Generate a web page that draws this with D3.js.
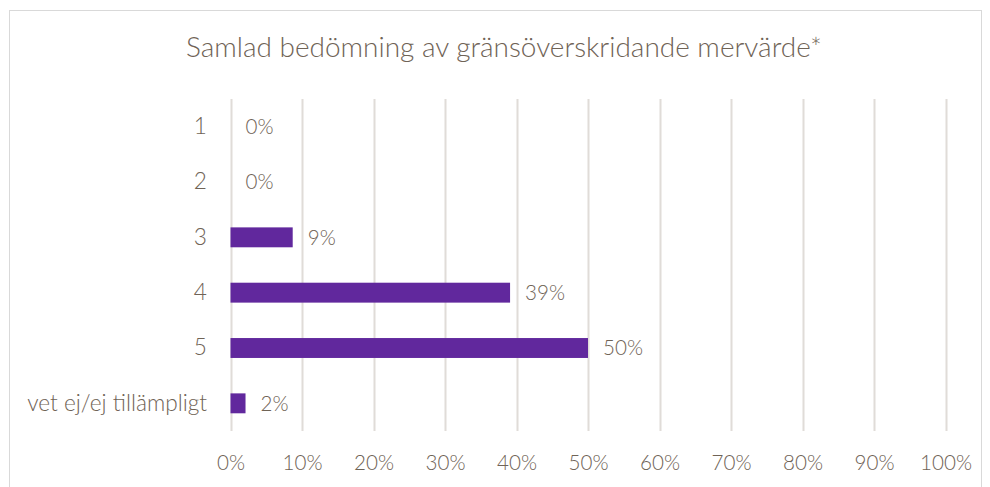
<!DOCTYPE html>
<html><head><meta charset="utf-8">
<script src="https://cdn.jsdelivr.net/npm/d3@7"></script>
<style>
html,body{margin:0;padding:0;background:#fff;}
svg text{font-family:Lato,"Open Sans",sans-serif;font-weight:300;fill:#6F6356;}
</style></head>
<body><svg id="c" width="990" height="487"></svg>
<script>
const title = "Samlad bedömning av gränsöverskridande mervärde*";
const categories = ["1","2","3","4","5","vet ej/ej tillämpligt"];
const values = [0, 0, 8.7, 39.1, 50, 2.1];
const valueLabels = ["0%","0%","9%","39%","50%","2%"];
const xTicks = [0,10,20,30,40,50,60,70,80,90,100];
const xTickLabels = ["0%","10%","20%","30%","40%","50%","60%","70%","80%","90%","100%"];

const svg = d3.select("#c");
function fitSize(sample, width){
  const t = svg.append("text").attr("font-size",100).text(sample);
  const w = t.node().getComputedTextLength();
  t.remove();
  return 100*width/w;
}
const titleSize = fitSize(title, 636);
const ySize = fitSize("vet ej/ej tillämpligt", 180);
const xSize = fitSize("100%", 52);
const lSize = fitSize("50%", 40);

svg.append("rect").attr("x",9.5).attr("y",10.5).attr("width",972).attr("height",490)
  .attr("fill","#fff").attr("stroke","#D9D9D9").attr("stroke-width",1);

const x = d3.scaleLinear().domain([0,100]).range([230.5,945.5]);
const y = d3.scaleBand().domain(categories).range([99,431]).paddingInner(0.64).paddingOuter(0.32);

svg.append("g").selectAll("line").data(xTicks).join("line")
  .attr("x1",d=>Math.round(x(d))+0.5).attr("x2",d=>Math.round(x(d))+0.5)
  .attr("y1",99).attr("y2",431).attr("stroke","#E0DCD8").attr("stroke-width",2);

const xa = svg.append("g").attr("transform","translate(0,431)")
  .call(d3.axisBottom(x).tickValues(xTicks).tickFormat((d,i)=>xTickLabels[i]).tickSize(0).tickPadding(0));
xa.select(".domain").remove();
xa.selectAll("text").attr("font-size",xSize).attr("font-family",null).attr("y",39).attr("dy",null);

const ya = svg.append("g").attr("transform","translate(230,0)")
  .call(d3.axisLeft(y).tickSize(0).tickPadding(23));
ya.select(".domain").remove();
ya.selectAll("text").attr("font-size",ySize).attr("font-family",null);

svg.append("g").selectAll("rect").data(values).join("rect")
  .attr("x",x(0)).attr("y",(d,i)=>y(categories[i]))
  .attr("width",d=>x(d)-x(0)).attr("height",y.bandwidth())
  .attr("fill","#61289D");

svg.append("g").selectAll("text").data(values).join("text")
  .attr("x",d=>x(d)+15).attr("y",(d,i)=>y(categories[i])+y.bandwidth()/2)
  .attr("dy","0.35em").attr("font-size",lSize).text((d,i)=>valueLabels[i]);

svg.append("text").attr("x",504).attr("y",57).attr("text-anchor","middle")
  .attr("font-size",titleSize).text(title);
</script></body></html>
